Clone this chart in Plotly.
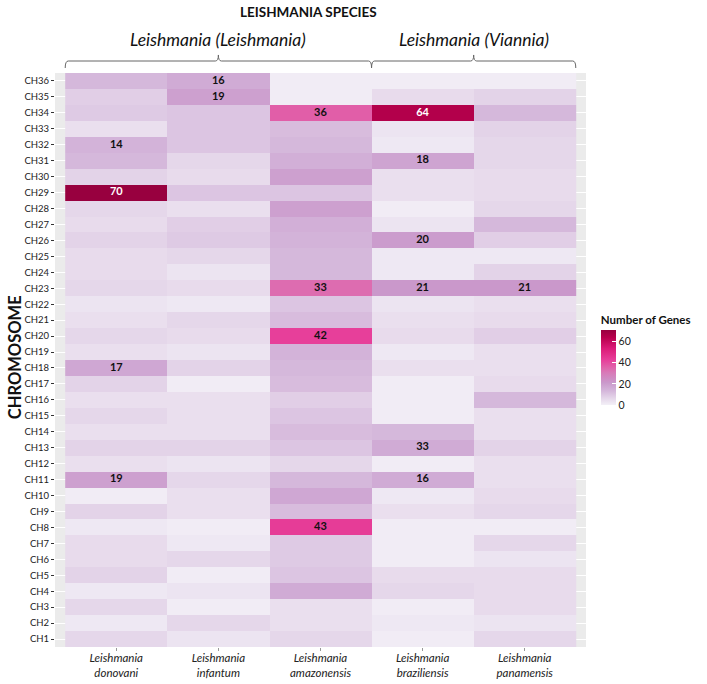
import plotly.graph_objects as go

# ---------------- data ----------------
species = ["L. donovani", "L. infantum", "L. amazonensis", "L. braziliensis", "L. panamensis"]
species_ticklabels = ["Leishmania<br>donovani", "Leishmania<br>infantum", "Leishmania<br>amazonensis",
                      "Leishmania<br>braziliensis", "Leishmania<br>panamensis"]
# chromosomes listed top to bottom
chromosomes = ["CH%d" % i for i in range(36, 0, -1)]

# fill values (number of genes) per species, CH36 -> CH1
donovani     = [13, 8, 9, 4, 14, 13, 7, 70, 6, 5, 7, 5, 5, 6, 3, 4, 6, 4, 17, 7, 4, 6, 4, 7, 4, 19, 1, 7, 2, 5, 5, 7, 2, 6, 2, 6]
infantum     = [16, 19, 10, 10, 10, 6, 5, 10, 4, 8, 9, 6, 3, 5, 2, 6, 5, 3, 7, 1, 4, 4, 4, 7, 3, 6, 4, 4, 1, 2, 6, 1, 3, 1, 6, 3]
amazonensis  = [1, 1, 36, 12, 13, 15, 19, 10, 19, 15, 14, 13, 13, 33, 10, 12, 42, 14, 13, 12, 8, 10, 12, 10, 6, 13, 17, 12, 43, 9, 9, 10, 16, 4, 4, 6]
braziliensis = [1, 5, 64, 3, 2, 18, 4, 4, 1, 3, 20, 2, 2, 21, 3, 4, 5, 2, 4, 1, 1, 1, 13, 16, 1, 16, 2, 4, 1, 1, 1, 5, 6, 1, 2, 1]
panamensis   = [1, 7, 13, 7, 6, 6, 5, 5, 6, 13, 8, 2, 7, 21, 4, 5, 8, 4, 4, 5, 13, 4, 4, 7, 4, 4, 5, 6, 1, 6, 3, 5, 5, 5, 3, 6]

# labelled cells
label_species = ["L. donovani", "L. donovani", "L. donovani", "L. donovani",
                 "L. infantum", "L. infantum",
                 "L. amazonensis", "L. amazonensis", "L. amazonensis", "L. amazonensis",
                 "L. braziliensis", "L. braziliensis", "L. braziliensis", "L. braziliensis",
                 "L. braziliensis", "L. braziliensis",
                 "L. panamensis"]
label_chrom = ["CH32", "CH29", "CH18", "CH11",
               "CH36", "CH35",
               "CH34", "CH23", "CH20", "CH8",
               "CH34", "CH31", "CH26", "CH23", "CH13", "CH11",
               "CH23"]
label_value = [14, 70, 17, 19,
               16, 19,
               36, 33, 42, 43,
               64, 18, 20, 21, 33, 16,
               21]

group_names = ["<i>Leishmania (Leishmania)</i>", "<i>Leishmania (Viannia)</i>"]
group_first = [0, 3]
group_last = [2, 4]

# ---------------- figure ----------------
FONT = "Lato, 'Open Sans', sans-serif"

columns = [donovani, infantum, amazonensis, braziliensis, panamensis]
z = [[columns[j][i] for j in range(len(species))] for i in range(len(chromosomes))]

colorscale = [
    [0.0, "#f3f0f7"],
    [0.1, "#e3d3e8"],
    [0.2, "#d3b3d9"],
    [0.3, "#ca98cb"],
    [0.43, "#d87ab8"],
    [0.5, "#e063aa"],
    [0.6, "#e73f9a"],
    [0.75, "#dc1c79"],
    [0.9, "#b8004d"],
    [1.0, "#98003f"],
]

fig = go.Figure()
fig.add_trace(go.Heatmap(
    x=species, y=chromosomes, z=z,
    zmin=0, zmax=70,
    colorscale=colorscale,
    hoverinfo="skip",
    colorbar=dict(
        title=dict(text="<b>Number of Genes</b>", side="top",
                   font=dict(family=FONT, size=11.5, color="#111")),
        x=1.028, xanchor="left", y=0.583, yanchor="top",
        len=0.162, lenmode="fraction", thickness=15,
        tickvals=[0, 20, 40, 60], ticks="inside", tickcolor="white", ticklen=4,
        tickfont=dict(family=FONT, size=10.5, color="#222"),
        outlinewidth=0, xpad=0, ypad=0,
    ),
))

fig.add_trace(go.Scatter(
    x=label_species, y=label_chrom, mode="text",
    text=[str(v) for v in label_value],
    textfont=dict(family=FONT, size=11, weight="bold",
                  color=["white" if v >= 60 else "#111" for v in label_value]),
    hoverinfo="skip", showlegend=False,
))

n_rows = len(chromosomes)
fig.update_layout(
    width=707, height=684,
    margin=dict(l=55, r=121, t=73, b=37),
    paper_bgcolor="white", plot_bgcolor="#ebebeb",
    font=dict(family=FONT, color="#222"),
    showlegend=False,
    xaxis=dict(
        type="category", categoryorder="array", categoryarray=species,
        range=[-0.6, len(species) - 0.4],
        tickvals=species, ticktext=species_ticklabels,
        tickfont=dict(family=FONT, size=11.5, style="italic", color="#222"),
        ticks="outside", ticklen=3, tickcolor="#999", ticklabelstandoff=-3,
        showgrid=False, zeroline=False, showline=False, automargin=False,
    ),
    yaxis=dict(
        type="category", categoryorder="array", categoryarray=chromosomes,
        range=[n_rows - 0.5, -0.5],
        tickfont=dict(family=FONT, size=9.5, color="#222"),
        ticks="outside", ticklen=3, tickcolor="#333",
        showgrid=True, gridcolor="white", gridwidth=1, zeroline=False, showline=False,
        automargin=False,
    ),
)

# Titles
fig.add_annotation(text="<b>LEISHMANIA SPECIES</b>", xref="paper", yref="paper",
                   x=0.478, y=1.106, xanchor="center", yanchor="middle", showarrow=False,
                   font=dict(family=FONT, size=13.5, color="#111"))
fig.add_annotation(text="<b>CHROMOSOME</b>", xref="paper", yref="paper",
                   x=-0.0753, y=0.505, xanchor="center", yanchor="middle", showarrow=False,
                   textangle=-90, font=dict(family=FONT, size=16.5, color="#111"))

# Group labels and braces
y_low, y_mid, y_top = 1.0087, 1.0209, 1.0314
for name, a, b in zip(group_names, group_first, group_last):
    x0, x1 = a - 0.5, b + 0.5
    xm = (x0 + x1) / 2
    d = 0.03
    fig.add_annotation(text=name, xref="x", yref="paper", x=xm, y=1.0575,
                       xanchor="center", yanchor="middle", showarrow=False,
                       font=dict(family=FONT, size=17.5, color="#111"))
    path = (f"M {x0},{y_low} Q {x0},{y_mid} {x0 + d},{y_mid} "
            f"L {xm - d},{y_mid} Q {xm},{y_mid} {xm},{y_top} "
            f"Q {xm},{y_mid} {xm + d},{y_mid} L {x1 - d},{y_mid} "
            f"Q {x1},{y_mid} {x1},{y_low}")
    fig.add_shape(type="path", path=path, xref="x", yref="paper",
                  line=dict(color="#666", width=1))

fig.write_html("out.html",
               config={"displayModeBar": False},
               post_script="document.body.style.margin='0px';document.body.style.overflow='hidden';")
